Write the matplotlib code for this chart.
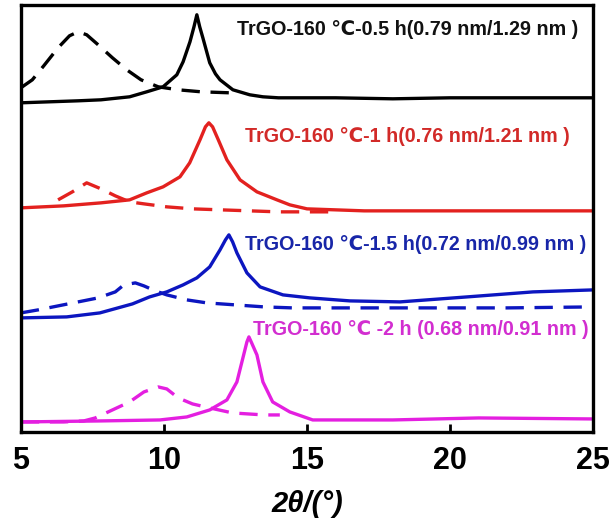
import matplotlib
matplotlib.use("Agg")
import matplotlib.pyplot as plt

# Intensity values are heights (arbitrary units) for each stacked trace
# ---- 0.5 h (black) ----
x_k_solid = [5.0, 6.0, 7.0, 7.8, 8.8, 9.4, 9.97, 10.45, 10.67, 10.91, 11.05, 11.15, 11.25, 11.36, 11.6, 11.8, 11.96, 12.41, 13.0, 13.46, 14.0, 16.0, 18.0, 20.0, 22.0, 24.0, 25.0]
y_k_solid = [329, 330, 331, 332, 335, 340, 345, 357, 370, 390, 405, 417, 405, 394, 369, 358, 352, 342, 337, 335, 334, 334, 333, 334, 334, 334, 334]
x_k_dash = [5.0, 5.4, 5.8, 6.3, 6.7, 7.0, 7.3, 7.7, 8.2, 8.7, 9.2, 9.8, 10.5, 11.3, 12.3]
y_k_dash = [344, 352, 366, 384, 396, 400, 397, 387, 374, 362, 352, 345, 342, 340, 339]

# ---- 1 h (red) ----
x_r_solid = [5.0, 6.5, 7.8, 8.8, 9.4, 9.97, 10.56, 10.9, 11.26, 11.45, 11.57, 11.7, 11.9, 12.2, 12.66, 13.25, 13.95, 14.4, 15.0, 17.0, 19.0, 21.0, 23.0, 25.0]
y_r_solid = [224, 226, 229, 232, 239, 245, 255, 269, 292, 305, 309, 305, 292, 272, 252, 240, 232, 227, 223, 221, 221, 221, 221, 221]
x_r_dash = [6.3, 6.8, 7.3, 7.8, 8.3, 8.8, 9.3, 10.1, 11.0, 12.0, 13.0, 14.0, 15.0, 16.0]
y_r_dash = [232, 240, 249, 243, 236, 230, 228, 225, 223, 222, 221, 220, 220, 220]

# ---- 1.5 h (blue) ----
x_b_solid = [5.0, 6.6, 7.76, 8.9, 9.5, 10.1, 10.67, 11.15, 11.6, 11.96, 12.15, 12.27, 12.4, 12.55, 12.9, 13.36, 14.16, 15.1, 16.5, 18.25, 20.6, 22.9, 25.0]
y_b_solid = [114, 115, 119, 128, 135, 140, 147, 154, 165, 182, 192, 197, 190, 179, 159, 145, 137, 134, 131, 130, 135, 140, 142]
x_b_dash = [5.0, 5.6, 6.3, 7.0, 7.7, 8.3, 8.6, 9.0, 9.3, 9.7, 10.1, 10.8, 11.5, 12.5, 13.5, 14.5, 16.0, 18.0, 20.0, 22.0, 25.0]
y_b_dash = [119, 122, 126, 130, 134, 140, 147, 149, 146, 141, 137, 132, 129, 127, 125, 124, 124, 124, 124, 124, 125]

# ---- 2 h (magenta) ----
x_m_solid = [5.0, 7.76, 9.86, 10.8, 11.6, 12.2, 12.55, 12.76, 12.9, 12.97, 13.05, 13.25, 13.46, 13.8, 14.4, 15.2, 16.5, 18.0, 21.0, 25.0]
y_m_solid = [10, 11, 12, 15, 22, 32, 50, 74, 90, 95, 90, 77, 50, 30, 20, 12, 12, 12, 14, 13]
x_m_dash = [5.0, 6.5, 7.2, 7.6, 8.2, 8.8, 9.3, 9.8, 10.1, 10.5, 11.0, 11.6, 12.4, 13.5, 14.05]
y_m_dash = [10, 10, 11, 14, 22, 30, 40, 45, 43, 34, 28, 24, 19, 17, 17]

labels = [
    "TrGO-160 \u2103-0.5 h(0.79 nm/1.29 nm )",
    "TrGO-160 \u2103-1 h(0.76 nm/1.21 nm )",
    "TrGO-160 \u2103-1.5 h(0.72 nm/0.99 nm )",
    "TrGO-160 \u2103 -2 h (0.68 nm/0.91 nm )",
]
line_colors = ["#000000", "#e3211f", "#0c16c0", "#e41fe0"]
text_colors = ["#111111", "#d22a28", "#1826a8", "#d22ed0"]
label_pos = [(12.55, 402), (12.83, 295), (12.83, 187), (13.11, 102)]
xticks = [5, 10, 15, 20, 25]

fam = ["Liberation Sans", "DejaVu Sans"]
plt.rcParams["font.family"] = fam

fig = plt.figure(figsize=(6.14, 5.30), dpi=100)
ax = fig.add_axes([0.034, 0.185, 0.932, 0.806])

series = [
    (x_k_solid, y_k_solid, x_k_dash, y_k_dash),
    (x_r_solid, y_r_solid, x_r_dash, y_r_dash),
    (x_b_solid, y_b_solid, x_b_dash, y_b_dash),
    (x_m_solid, y_m_solid, x_m_dash, y_m_dash),
]
for (xs, ys, xd, yd), c in zip(series, line_colors):
    ax.plot(xs, ys, color=c, lw=2.4, solid_joinstyle="round", solid_capstyle="round")
    ax.plot(xd, yd, color=c, lw=2.4, dashes=(5.5, 3.2), dash_capstyle="butt")

for lab, (tx, ty), tc in zip(labels, label_pos, text_colors):
    ax.text(tx, ty, lab, color=tc, fontsize=14.2, fontweight="bold",
            va="center", ha="left", family=fam)

ax.set_xlim(5, 25)
ax.set_ylim(0, 427)
ax.set_yticks([])
ax.set_xticks(xticks)
ax.set_xticklabels([str(t) for t in xticks], fontsize=22, fontweight="bold")
ax.tick_params(axis="x", direction="in", length=6, width=2, pad=10)
for s in ax.spines.values():
    s.set_linewidth(2.4)
ax.set_xlabel("2\u03b8/(\u00b0)", fontsize=21, fontweight="bold", style="italic", labelpad=10)

fig.savefig("out.png", dpi=100)
